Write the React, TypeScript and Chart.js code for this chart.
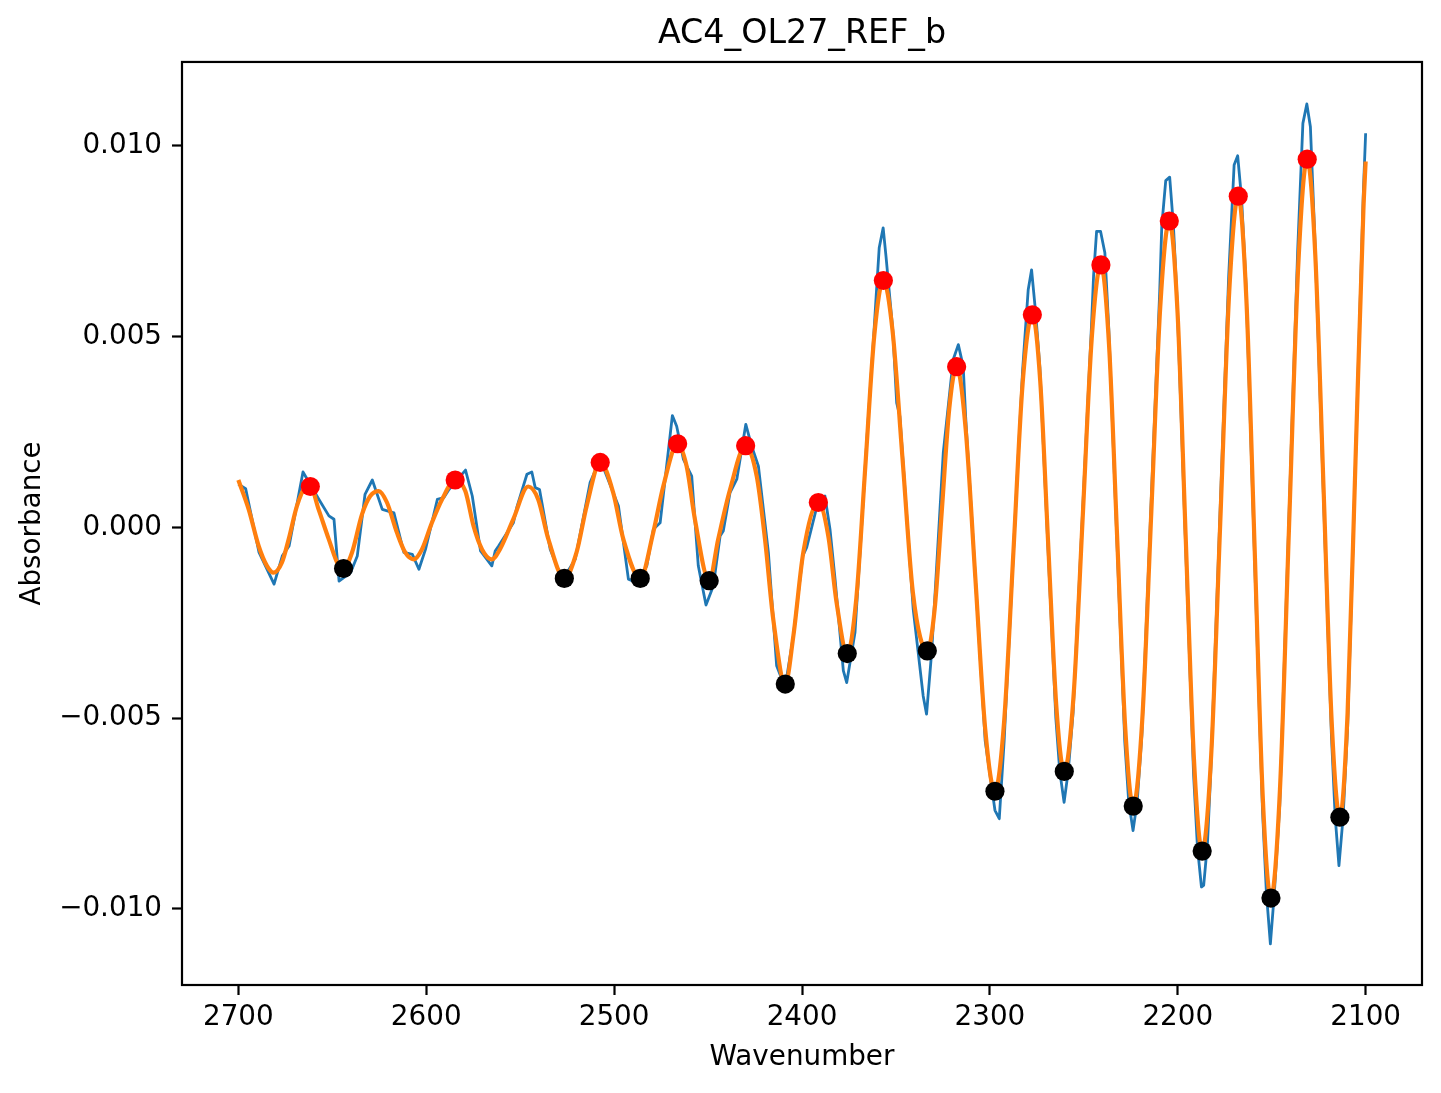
import React, { useEffect, useRef } from "react";
import { Chart, registerables } from "chart.js";

Chart.register(...registerables);

// Smoothed spectrum (orange)
const smoothX = [
  2700.0, 2694.5, 2689.2, 2684.8, 2681.2, 2676.8, 2673.2, 2668.8, 2664.4, 2661.7,
  2657.3, 2651.9, 2646.6, 2644.0, 2639.5, 2634.2, 2629.8, 2625.3, 2620.9, 2615.6,
  2611.2, 2606.7, 2602.3, 2597.0, 2591.6, 2584.6, 2579.2, 2574.8, 2570.3, 2565.1,
  2560.8, 2553.7, 2545.7, 2540.4, 2535.0, 2526.5, 2520.0, 2514.6, 2507.4, 2500.5,
  2495.1, 2486.1, 2479.2, 2473.8, 2466.2, 2461.4, 2457.0, 2449.4, 2444.6, 2438.3,
  2430.0, 2424.1, 2419.7, 2415.3, 2408.9, 2404.6, 2399.3, 2391.3, 2386.0, 2381.6,
  2375.9, 2371.1, 2366.3, 2361.5, 2356.7, 2351.8, 2346.5, 2341.0, 2333.3, 2329.4,
  2325.5, 2321.6, 2317.7, 2312.9, 2307.7, 2302.5, 2297.3, 2292.4, 2287.5, 2282.6,
  2277.4, 2273.2, 2269.0, 2264.7, 2260.4, 2255.5, 2250.6, 2245.8, 2240.9, 2236.6,
  2232.3, 2228.0, 2223.7, 2218.9, 2214.1, 2209.3, 2204.5, 2200.1, 2195.8, 2191.4,
  2187.0, 2182.2, 2177.4, 2172.6, 2167.8, 2163.5, 2159.1, 2154.8, 2150.4, 2145.6,
  2140.8, 2135.9, 2131.1, 2126.8, 2122.4, 2118.1, 2113.7, 2109.6, 2105.4, 2101.2,
  2100.0,
];
const smoothY = [
  0.00124, 0.00047, -0.00049, -0.00101, -0.00119, -0.00092, -0.00031, 0.00056, 0.00104, 0.00107,
  0.00047, -0.00031, -0.00101, -0.00108, -0.00066, 0.00034, 0.00082, 0.00095, 0.00065, -0.00014,
  -0.00066, -0.00084, -0.00058, 0.00012, 0.00073, 0.00124, 0.00095, 0.00003, -0.00058, -0.00084,
  -0.00058, 0.00021, 0.00107, 0.00073, -0.00031, -0.00134, -0.00066, 0.00056, 0.0017, 0.00091,
  -0.00031, -0.00134, -0.00014, 0.00108, 0.00219, 0.0016, 0.00021, -0.0014, -0.00031, 0.00099,
  0.00214, 0.00134, -0.00031, -0.00241, -0.00411, -0.00285, -0.00066, 0.00065, -0.00023, -0.00197,
  -0.00331, -0.00187, 0.00159, 0.00504, 0.00647, 0.00515, 0.0018, -0.0017, -0.00324, -0.00215,
  0.00049, 0.00312, 0.00421, 0.00258, -0.00135, -0.00528, -0.00692, -0.00508, -0.00067, 0.00375,
  0.00557, 0.00383, -0.0004, -0.00464, -0.0064, -0.00445, 0.00025, 0.00494, 0.00688, 0.0048,
  -0.00021, -0.00522, -0.00731, -0.00505, 0.00037, 0.00579, 0.00803, 0.00562, -0.00022, -0.00606,
  -0.00849, -0.00597, 0.0001, 0.00618, 0.00868, 0.006, -0.00051, -0.00702, -0.00972, -0.00687,
  -0.00003, 0.00682, 0.00965, 0.00714, 0.00104, -0.00507, -0.0076, -0.00486, 0.00173, 0.00831,
  0.00959,
];

// Raw spectrum (blue)
const rawX = [
  2700.0, 2696.1, 2689.0, 2681.0, 2676.6, 2673.0, 2665.6, 2657.1, 2651.8, 2649.1,
  2646.4, 2640.3, 2636.7, 2632.6, 2628.7, 2623.4, 2617.2, 2611.9, 2607.4, 2603.9,
  2600.4, 2594.1, 2590.6, 2587.9, 2579.1, 2575.5, 2571.1, 2565.1, 2563.3, 2561.5,
  2553.6, 2551.8, 2546.4, 2543.8, 2542.0, 2539.7, 2534.0, 2527.5, 2520.7, 2512.8,
  2507.4, 2497.7, 2492.4, 2487.9, 2482.6, 2479.1, 2475.5, 2469.0, 2466.7, 2463.1,
  2458.7, 2455.2, 2451.1, 2447.2, 2443.6, 2441.9, 2438.3, 2434.7, 2429.9, 2426.8,
  2423.2, 2417.9, 2413.5, 2409.0, 2404.6, 2399.6, 2397.5, 2391.5, 2387.8, 2385.1,
  2382.4, 2378.0, 2376.2, 2371.8, 2369.1, 2365.6, 2362.1, 2360.6, 2358.9, 2356.8,
  2355.3, 2351.7, 2349.6, 2347.9, 2340.8, 2335.5, 2333.7, 2331.0, 2324.8, 2319.5,
  2316.8, 2314.2, 2312.9, 2307.7, 2302.5, 2297.3, 2295.0, 2292.4, 2287.5, 2282.6,
  2279.6, 2277.8, 2275.6, 2273.4, 2269.2, 2264.9, 2262.8, 2260.5, 2258.3, 2255.7,
  2250.8, 2245.9, 2244.8, 2243.2, 2241.1, 2238.8, 2236.7, 2232.5, 2228.2, 2226.1,
  2223.8, 2221.6, 2219.1, 2214.4, 2209.6, 2208.5, 2206.4, 2204.3, 2202.3, 2200.4,
  2196.0, 2191.6, 2189.5, 2187.4, 2186.2, 2184.2, 2182.4, 2177.7, 2172.9, 2170.0,
  2168.1, 2166.0, 2163.7, 2159.3, 2154.9, 2152.8, 2150.7, 2148.6, 2145.7, 2141.0,
  2136.2, 2133.4, 2131.3, 2129.4, 2127.0, 2122.6, 2118.2, 2116.2, 2114.2, 2112.0,
  2109.6, 2105.4, 2101.2, 2100.0,
];
const rawY = [
  0.00113, 0.00101, -0.00066, -0.00149, -0.00075, -0.00049, 0.00145, 0.00073, 0.0003, 0.00021,
  -0.00141, -0.00119, -0.00075, 0.00086, 0.00124, 0.00047, 0.00038, -0.00066, -0.00071, -0.0011,
  -0.00058, 0.00073, 0.00078, 0.00099, 0.0015, 0.00082, -0.00062, -0.00101, -0.00062, -0.00049,
  0.00012, 0.00052, 0.00139, 0.00145, 0.00104, 0.00099, -0.00058, -0.00138, -0.00084, 0.00117,
  0.00178, 0.00056, -0.00136, -0.00145, -0.00101, -0.00005, 0.00012, 0.00293, 0.00265, 0.00178,
  0.00134, -0.00101, -0.00204, -0.00154, -0.00023, -0.0001, 0.00091, 0.00126, 0.0027, 0.00213,
  0.0016, -0.00066, -0.00363, -0.0042, -0.00285, -0.00075, -0.00053, 0.00066, 0.00082, -0.00005,
  -0.00136, -0.00376, -0.00407, -0.00276, -0.00065, 0.0022, 0.0048, 0.006, 0.00733, 0.00785,
  0.00711, 0.00518, 0.00326, 0.00291, -0.00215, -0.00442, -0.0049, -0.00328, 0.00196, 0.0044,
  0.00479, 0.00422, 0.0029, -0.00135, -0.0056, -0.00742, -0.00764, -0.0056, -0.00067, 0.0041,
  0.00623, 0.00675, 0.0056, 0.0042, -0.0004, -0.005, -0.0064, -0.00721, -0.0064, -0.00485,
  0.00025, 0.0053, 0.0066, 0.00776, 0.00776, 0.0072, 0.0052, -0.00021, -0.00562, -0.0072,
  -0.00795, -0.0072, -0.00545, 0.00037, 0.00619, 0.0079, 0.00909, 0.00918, 0.0079, 0.00602,
  -0.00022, -0.00646, -0.0084, -0.00943, -0.00939, -0.0083, -0.00637, 0.0001, 0.00658, 0.0095,
  0.00974, 0.0086, 0.0064, -0.00051, -0.00742, -0.0096, -0.01092, -0.0096, -0.00727, -0.00003,
  0.00722, 0.01059, 0.0111, 0.0105, 0.00754, 0.00104, -0.00547, -0.0076, -0.00887, -0.0076,
  -0.00526, 0.00173, 0.0088, 0.01033,
];

// Detected maxima (red) and minima (black)
const peakX = [2661.7, 2584.6, 2507.4, 2466.2, 2430.0, 2391.3, 2356.7, 2317.7, 2277.4, 2240.9, 2204.5, 2167.8, 2131.1];
const peakY = [0.00107, 0.00124, 0.0017, 0.00219, 0.00214, 0.00065, 0.00647, 0.00421, 0.00557, 0.00688, 0.00803, 0.00868, 0.00965];
const troughX = [2644.0, 2526.5, 2486.1, 2449.4, 2408.9, 2375.9, 2333.3, 2297.3, 2260.4, 2223.7, 2187.0, 2150.4, 2113.7];
const troughY = [-0.00108, -0.00134, -0.00134, -0.0014, -0.00411, -0.00331, -0.00324, -0.00692, -0.0064, -0.00731, -0.00849, -0.00972, -0.0076];

const xTicks = [2100, 2200, 2300, 2400, 2500, 2600, 2700];
const yTicks = [-0.01, -0.005, 0, 0.005, 0.01];

const FONT = "'DejaVu Sans', sans-serif";

const toPts = (xs: number[], ys: number[]) => xs.map((x, i) => ({ x, y: ys[i] }));

const fmtY = (v: number) => {
  const s = Math.abs(v).toFixed(3);
  return v < -1e-12 ? "\u2212" + s : s;
};

export default function App() {
  const ref = useRef<HTMLCanvasElement>(null);

  useEffect(() => {
    if (!ref.current) return;
    const frame = {
      id: "frame",
      afterDatasetsDraw(chart: any) {
        const { ctx, chartArea: a } = chart;
        ctx.save();
        ctx.strokeStyle = "#000";
        ctx.lineWidth = 2.2;
        ctx.strokeRect(a.left, a.top, a.right - a.left, a.bottom - a.top);
        ctx.restore();
      },
    };
    const gridOpts = {
      display: true,
      drawOnChartArea: false,
      drawTicks: true,
      tickLength: 10,
      tickWidth: 2.2,
      tickColor: "#000",
      color: "#000",
    };
    const chart = new Chart(ref.current, {
      type: "line",
      data: {
        datasets: [
          {
            data: toPts(troughX, troughY),
            showLine: false,
            pointRadius: 9.6,
            pointHoverRadius: 9.6,
            pointBackgroundColor: "#000000",
            pointBorderWidth: 0,
            order: 0,
          },
          {
            data: toPts(peakX, peakY),
            showLine: false,
            pointRadius: 9.6,
            pointHoverRadius: 9.6,
            pointBackgroundColor: "#ff0000",
            pointBorderWidth: 0,
            order: 1,
          },
          {
            data: toPts(smoothX, smoothY),
            borderColor: "#ff7f0e",
            borderWidth: 4.2,
            pointRadius: 0,
            cubicInterpolationMode: "monotone",
            borderJoinStyle: "round",
            fill: false,
            order: 2,
          },
          {
            data: toPts(rawX, rawY),
            borderColor: "#1f77b4",
            borderWidth: 2.8,
            pointRadius: 0,
            tension: 0,
            borderJoinStyle: "round",
            fill: false,
            order: 3,
          },
        ] as any,
      },
      options: {
        animation: false,
        responsive: false,
        devicePixelRatio: 1,
        events: [],
        layout: { padding: { left: 0, right: 19, top: 0, bottom: 0 } },
        plugins: {
          legend: { display: false },
          tooltip: { enabled: false },
          title: {
            display: true,
            fullSize: false,
            text: "AC4_OL27_REF_b",
            color: "#000",
            font: { family: FONT, size: 33.3, weight: "normal", lineHeight: 1.2 },
            padding: { top: 14, bottom: 8 },
          },
        },
        scales: {
          x: {
            type: "linear",
            reverse: true,
            min: 2070,
            max: 2730,
            afterFit: (s: any) => {
              s.height = 108;
            },
            afterBuildTicks: (s: any) => {
              s.ticks = xTicks.map((v) => ({ value: v }));
            },
            ticks: {
              color: "#000",
              font: { family: FONT, size: 27.8, lineHeight: 1.2 },
              padding: 6,
              maxRotation: 0,
              autoSkip: false,
              callback: (v: any) => String(v),
            },
            grid: gridOpts,
            border: { display: false },
            title: {
              display: true,
              text: "Wavenumber",
              color: "#000",
              font: { family: FONT, size: 27.8, lineHeight: 1.2 },
              padding: { top: 0, bottom: 19 },
            },
          },
          y: {
            type: "linear",
            min: -0.012,
            max: 0.0122,
            afterFit: (s: any) => {
              s.width = 182;
            },
            afterBuildTicks: (s: any) => {
              s.ticks = yTicks.map((v) => ({ value: v }));
            },
            ticks: {
              color: "#000",
              font: { family: FONT, size: 27.8, lineHeight: 1.2 },
              padding: 10,
              autoSkip: false,
              callback: (v: any) => fmtY(Number(v)),
            },
            grid: gridOpts,
            border: { display: false },
            title: {
              display: true,
              text: "Absorbance",
              color: "#000",
              font: { family: FONT, size: 27.8, lineHeight: 1.2 },
              padding: { top: 16, bottom: 0 },
            },
          },
        },
      } as any,
      plugins: [frame],
    });
    return () => chart.destroy();
  }, []);

  return (
    <div style={{ position: "absolute", left: 0, top: 0, width: 1441, height: 1093, background: "#fff" }}>
      <canvas ref={ref} width={1441} height={1093} style={{ width: 1441, height: 1093, display: "block" }} />
    </div>
  );
}
